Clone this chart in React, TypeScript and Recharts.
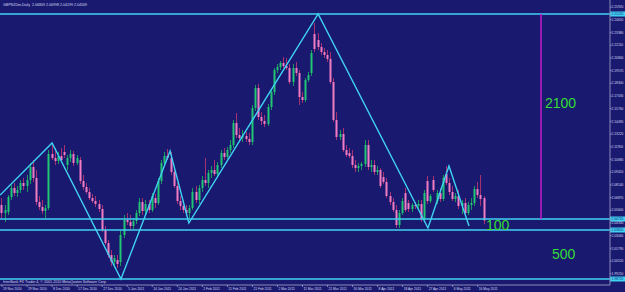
import { ComposedChart, XAxis, YAxis, Bar, Line, ReferenceLine } from 'recharts';

// GBPNZDm daily, 19 Nov 2010 .. 19 May 2011 (one candle per trading day, Sunday bars included)
// [open, high, low, close]
const ohlc: [number, number, number, number][] = [
  [2.0612, 2.0682, 2.0482, 2.0532], [2.0532, 2.0612, 2.0442, 2.0562], [2.0542, 2.0712, 2.0512, 2.0692],
  [2.0692, 2.0812, 2.0662, 2.0782], [2.0782, 2.0832, 2.0702, 2.0732], [2.0732, 2.0802, 2.0692, 2.0762],
  [2.0762, 2.0862, 2.0732, 2.0832], [2.0832, 2.0882, 2.0762, 2.0802], [2.0802, 2.0912, 2.0742, 2.0862],
  [2.0862, 2.1032, 2.0822, 2.0992], [2.0992, 2.1062, 2.0842, 2.0882], [2.0882, 2.0962, 2.0612, 2.0642],
  [2.0642, 2.0702, 2.0562, 2.0592], [2.0592, 2.0662, 2.0522, 2.0552], [2.0552, 2.0612, 2.0482, 2.0582],
  [2.0582, 2.1162, 2.0562, 2.1122], [2.1122, 2.1232, 2.1062, 2.1082], [2.1082, 2.1182, 2.1012, 2.1052],
  [2.1052, 2.1142, 2.1022, 2.1102], [2.1102, 2.1182, 2.1042, 2.1062], [2.1142, 2.1212, 2.1082, 2.1112],
  [2.1012, 2.1112, 2.0962, 2.1082], [2.1082, 2.1162, 2.1042, 2.1122], [2.1122, 2.1152, 2.1002, 2.1032],
  [2.1032, 2.1112, 2.1012, 2.1082], [2.1062, 2.1092, 2.0822, 2.0852], [2.0852, 2.0912, 2.0762, 2.0792],
  [2.0792, 2.0832, 2.0722, 2.0742], [2.0742, 2.0782, 2.0662, 2.0682], [2.0682, 2.0722, 2.0632, 2.0652],
  [2.0652, 2.0702, 2.0592, 2.0622], [2.0622, 2.0662, 2.0542, 2.0572], [2.0572, 2.0612, 2.0342, 2.0362],
  [2.0362, 2.0402, 2.0212, 2.0232], [2.0232, 2.0262, 2.0082, 2.0112], [2.0112, 2.0162, 2.0002, 2.0042],
  [2.0042, 2.0112, 1.9982, 2.0082], [2.0062, 2.0112, 1.9982, 2.0022], [2.0042, 2.0352, 2.0002, 2.0312],
  [2.0312, 2.0512, 2.0282, 2.0462], [2.0462, 2.0532, 2.0412, 2.0442], [2.0442, 2.0512, 2.0362, 2.0402],
  [2.0402, 2.0482, 2.0372, 2.0452], [2.0452, 2.0562, 2.0422, 2.0532], [2.0532, 2.0682, 2.0502, 2.0642],
  [2.0642, 2.0682, 2.0512, 2.0552], [2.0552, 2.0662, 2.0522, 2.0622], [2.0622, 2.0662, 2.0532, 2.0562],
  [2.0562, 2.0732, 2.0542, 2.0702], [2.0682, 2.0722, 2.0582, 2.0632], [2.0632, 2.0882, 2.0612, 2.0852],
  [2.0852, 2.1062, 2.0822, 2.1032], [2.1032, 2.1142, 2.1012, 2.1102], [2.1102, 2.1172, 2.1062, 2.1082],
  [2.1082, 2.1142, 2.0912, 2.0942], [2.0942, 2.0982, 2.0782, 2.0802], [2.0802, 2.0832, 2.0622, 2.0652],
  [2.0652, 2.0702, 2.0562, 2.0602], [2.0602, 2.0662, 2.0532, 2.0562], [2.0562, 2.0612, 2.0502, 2.0532],
  [2.0532, 2.0612, 2.0482, 2.0582], [2.0582, 2.0782, 2.0562, 2.0742], [2.0742, 2.0802, 2.0632, 2.0662],
  [2.0662, 2.0812, 2.0622, 2.0782], [2.0782, 2.0902, 2.0742, 2.0862], [2.0862, 2.1082, 2.0802, 2.0832],
  [2.0832, 2.0962, 2.0782, 2.0932], [2.0932, 2.1002, 2.0882, 2.0962], [2.0962, 2.1062, 2.0902, 2.0922],
  [2.0922, 2.1042, 2.0892, 2.1012], [2.1012, 2.1162, 2.0982, 2.1132], [2.1132, 2.1182, 2.1062, 2.1092],
  [2.1092, 2.1192, 2.1072, 2.1162], [2.1162, 2.1262, 2.1132, 2.1212], [2.1212, 2.1462, 2.1182, 2.1432],
  [2.1432, 2.1532, 2.1282, 2.1312], [2.1312, 2.1382, 2.1242, 2.1282], [2.1282, 2.1362, 2.1242, 2.1302],
  [2.1302, 2.1342, 2.1242, 2.1272], [2.1272, 2.1332, 2.1212, 2.1242], [2.1242, 2.1612, 2.1212, 2.1582],
  [2.1582, 2.1812, 2.1552, 2.1782], [2.1782, 2.1822, 2.1462, 2.1492], [2.1492, 2.1542, 2.1412, 2.1452],
  [2.1452, 2.1512, 2.1392, 2.1422], [2.1422, 2.1622, 2.1402, 2.1592], [2.1592, 2.1762, 2.1562, 2.1742],
  [2.1742, 2.1982, 2.1712, 2.1962], [2.1962, 2.2022, 2.1932, 2.1992], [2.1992, 2.2052, 2.1962, 2.2032],
  [2.2032, 2.2092, 2.1982, 2.2002], [2.2002, 2.2082, 2.1962, 2.1982], [2.1982, 2.2022, 2.1822, 2.1842],
  [2.1842, 2.2022, 2.1802, 2.1982], [2.1982, 2.2042, 2.1902, 2.1932], [2.1932, 2.1962, 2.1612, 2.1692],
  [2.1692, 2.1742, 2.1632, 2.1662], [2.1662, 2.1882, 2.1642, 2.1862], [2.1862, 2.1942, 2.1842, 2.1912],
  [2.1932, 2.2162, 2.1902, 2.2132], [2.2322, 2.2432, 2.2142, 2.2172], [2.2262, 2.2332, 2.2162, 2.2192],
  [2.2192, 2.2232, 2.2112, 2.2142], [2.2142, 2.2182, 2.2082, 2.2112], [2.2112, 2.2162, 2.2042, 2.2072],
  [2.2072, 2.2142, 2.1822, 2.1842], [2.1842, 2.1882, 2.1442, 2.1462], [2.1462, 2.1542, 2.1262, 2.1292],
  [2.1292, 2.1362, 2.1262, 2.1322], [2.1322, 2.1382, 2.1142, 2.1162], [2.1162, 2.1212, 2.1092, 2.1112],
  [2.1132, 2.1182, 2.1082, 2.1102], [2.1102, 2.1162, 2.0982, 2.1012], [2.1012, 2.1062, 2.0942, 2.0982],
  [2.0982, 2.1032, 2.0942, 2.1002], [2.1002, 2.1042, 2.0962, 2.1022], [2.1022, 2.1262, 2.0992, 2.1212],
  [2.1212, 2.1262, 2.0962, 2.0992], [2.0992, 2.1062, 2.0942, 2.1012], [2.1012, 2.1062, 2.0912, 2.0942],
  [2.0942, 2.1002, 2.0912, 2.0962], [2.0962, 2.0982, 2.0782, 2.0802], [2.0892, 2.0942, 2.0822, 2.0842],
  [2.0842, 2.0882, 2.0682, 2.0702], [2.0702, 2.0742, 2.0612, 2.0642], [2.0642, 2.0682, 2.0542, 2.0562],
  [2.0562, 2.0612, 2.0382, 2.0412], [2.0412, 2.0562, 2.0382, 2.0532], [2.0532, 2.0682, 2.0512, 2.0652],
  [2.0732, 2.0782, 2.0542, 2.0562], [2.0632, 2.0662, 2.0542, 2.0572], [2.0572, 2.0632, 2.0542, 2.0612],
  [2.0612, 2.0642, 2.0572, 2.0602], [2.0602, 2.0662, 2.0572, 2.0622], [2.0622, 2.0662, 2.0442, 2.0472],
  [2.0472, 2.0762, 2.0442, 2.0732], [2.0852, 2.0902, 2.0622, 2.0652], [2.0652, 2.0722, 2.0632, 2.0702],
  [2.0862, 2.0902, 2.0742, 2.0762], [2.0652, 2.0762, 2.0622, 2.0732], [2.0732, 2.0782, 2.0642, 2.0672],
  [2.0672, 2.0912, 2.0652, 2.0882], [2.0922, 2.1002, 2.0812, 2.0832], [2.0832, 2.0882, 2.0712, 2.0742],
  [2.0742, 2.0802, 2.0652, 2.0672], [2.0672, 2.0732, 2.0642, 2.0702], [2.0702, 2.0762, 2.0572, 2.0602],
  [2.0602, 2.0662, 2.0522, 2.0632], [2.0632, 2.0682, 2.0502, 2.0532], [2.0532, 2.0642, 2.0512, 2.0612],
  [2.0612, 2.0682, 2.0562, 2.0632], [2.0632, 2.0802, 2.0602, 2.0772], [2.0772, 2.0842, 2.0682, 2.0712],
  [2.0712, 2.0912, 2.0602, 2.0672], [2.06809, 2.06998, 2.04199, 2.04569],
];

// zigzag drawn over the candles (bar index, price)
const zigzagIdx = [-0.6, 16, 38, 53.7, 59.7, 101, 136.1, 142.8, 149.2];
const zigzagPrice = [2.0712, 2.1232, 1.9872, 2.1152, 2.0432, 2.2522, 2.0382, 2.1002, 2.0402];

// horizontal lines and the vertical measuring line
const levels = [2.2522, 2.0472, 2.0362, 1.9872];
const measureIdx = 172.2;
const measureFrom = 2.2522;
const measureTo = 2.0472;

const yTicks = [
  2.2592, 2.2465, 2.2338, 2.2211, 2.2084, 2.1957, 2.183, 2.1703, 2.1576, 2.1449, 2.1322,
  2.1195, 2.1068, 2.0941, 2.0814, 2.0687, 2.056, 2.0433, 2.0306, 2.0179, 2.0052, 1.9925,
];
const xTickIdx = [0, 8, 16, 24, 32, 40, 48, 56, 64, 72, 80, 88, 96, 104, 112, 120, 128, 136, 144, 152];
const xTickLabels = [
  '19 Nov 2010', '29 Nov 2010', '8 Dec 2010', '17 Dec 2010', '27 Dec 2010', '5 Jan 2011',
  '14 Jan 2011', '24 Jan 2011', '2 Feb 2011', '11 Feb 2011', '21 Feb 2011', '2 Mar 2011',
  '11 Mar 2011', '21 Mar 2011', '30 Mar 2011', '8 Apr 2011', '18 Apr 2011', '27 Apr 2011',
  '6 May 2011', '16 May 2011',
];

const BG = '#191970';
const AQUA = '#40d2f2';
const TEXT = '#d8d8f0';
const UP_BODY = '#22c476';
const UP_WICK = '#1a9a5c';
const DN_BODY = '#f27cc2';
const DN_WICK = '#a8306e';

const candles = ohlc.map((d, i) => ({ i, range: [d[2], d[1]], ohlc: d }));
const zigzag = zigzagIdx.map((i, k) => ({ i, p: zigzagPrice[k] }));

function Candle(props: any) {
  const { x, y, width, height, payload } = props;
  if (x == null || !payload) return null;
  const [o, hi, lo, c] = payload.ohlc;
  const top = Math.min(y, y + height);
  const span = Math.abs(height);
  const k = span / (hi - lo);
  const cx = Math.floor(x + width / 2);
  const yo = top + (hi - o) * k;
  const yc = top + (hi - c) * k;
  const up = c > o;
  return (
    <g>
      <line x1={cx + 0.5} x2={cx + 0.5} y1={top} y2={top + span} stroke={up ? UP_WICK : DN_WICK} strokeWidth={1} />
      <rect x={cx - 0.5} y={Math.min(yo, yc)} width={2} height={Math.max(1, Math.abs(yc - yo))} fill={up ? UP_BODY : DN_BODY} />
    </g>
  );
}

function XTick({ x, y, payload }: any) {
  const label = xTickLabels[xTickIdx.indexOf(payload.value)];
  return (
    <g>
      <line x1={x} x2={x} y1={y} y2={y + 2} stroke={TEXT} strokeWidth={0.5} />
      <text x={x + 1} y={y + 4.6} fontSize={3.3} fill={TEXT} fontFamily="Liberation Sans, Arial">
        {label}
      </text>
    </g>
  );
}

function YTick({ x, y, payload }: any) {
  return (
    <text x={x} y={y + 1.2} fontSize={3.3} fill={TEXT} fontFamily="Liberation Sans, Arial">
      {payload.value.toFixed(5)}
    </text>
  );
}

function PriceTag({ viewBox, value }: any) {
  if (!viewBox) return null;
  const x0 = viewBox.x + viewBox.width;
  return (
    <g>
      <rect x={x0} y={viewBox.y - 2.5} width={15} height={5} fill={AQUA} />
      <text x={x0 + 1.5} y={viewBox.y + 1.2} fontSize={3.3} fill={BG} fontFamily="Liberation Sans, Arial">
        {value.toFixed(5)}
      </text>
    </g>
  );
}

const bigText = { position: 'absolute' as const, fontSize: 14, lineHeight: '14px', color: '#33dd33', fontFamily: 'Liberation Sans, Arial' };
const smallText = { position: 'absolute' as const, fontSize: 3.6, lineHeight: '4px', color: TEXT, fontFamily: 'Liberation Sans, Arial', whiteSpace: 'nowrap' as const };

export default function App() {
  return (
    <div style={{ position: 'absolute', left: 0, top: 0, width: 625, height: 292, background: BG, overflow: 'hidden' }}>
      <ComposedChart width={625} height={292} data={candles} margin={{ top: 0, right: 0, bottom: 0, left: 0 }}>
        <XAxis
          dataKey="i"
          type="number"
          domain={[-0.64, 194.25]}
          allowDataOverflow
          ticks={xTickIdx}
          tick={<XTick />}
          tickLine={false}
          tickSize={0}
          tickMargin={0}
          axisLine={{ stroke: '#8a8ab8' }}
          height={7}
          interval={0}
        />
        <YAxis
          orientation="right"
          type="number"
          domain={[1.9812, 2.2662]}
          allowDataOverflow
          ticks={yTicks}
          tick={<YTick />}
          tickSize={1.5}
          tickMargin={0}
          tickLine={{ stroke: TEXT, strokeWidth: 0.5 }}
          axisLine={{ stroke: '#8a8ab8' }}
          width={15}
          interval={0}
        />
        <Bar dataKey="range" barSize={2} shape={<Candle />} isAnimationActive={false} />
        {levels.map((v) => (
          <ReferenceLine key={v} y={v} stroke={AQUA} strokeWidth={1.6} label={<PriceTag value={v} />} />
        ))}
        <ReferenceLine
          segment={[{ x: measureIdx, y: measureFrom }, { x: measureIdx, y: measureTo }]}
          stroke="#b81cc8"
          strokeWidth={1.6}
        />
        <Line
          data={zigzag}
          dataKey="p"
          type="linear"
          stroke={AQUA}
          strokeWidth={1.4}
          dot={false}
          activeDot={false}
          isAnimationActive={false}
        />
      </ComposedChart>
      <div style={{ ...smallText, left: 3, top: 3 }}>GBPNZDm,Daily&nbsp; 2.06809 2.06998 2.04199 2.04569</div>
      <div style={{ ...smallText, left: 3, top: 280 }}>InterBank FX Trader 4, © 2001-2010 MetaQuotes Software Corp.</div>
      <div style={{ ...bigText, left: 545, top: 96 }}>2100</div>
      <div style={{ ...bigText, left: 486, top: 218 }}>100</div>
      <div style={{ ...bigText, left: 552, top: 247 }}>500</div>
    </div>
  );
}
